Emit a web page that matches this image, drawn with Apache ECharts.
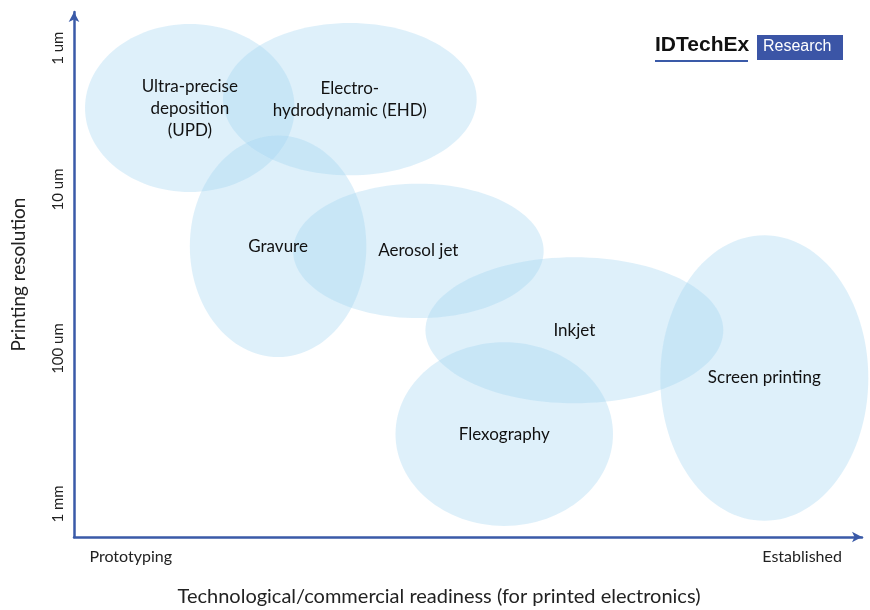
<!DOCTYPE html>
<html>
<head>
<meta charset="utf-8">
<script src="https://cdn.jsdelivr.net/npm/echarts@6/dist/echarts.min.js"></script>
<style>
  html, body { margin: 0; padding: 0; background: #fff; }
  #chart { width: 870px; height: 610px; }
</style>
</head>
<body>
<div id="chart"></div>
<script>
// technologies: readiness (x, 0-100), resolution position (y, 0-100), spread in x and y
var names = [
  'Ultra-precise\ndeposition\n(UPD)',
  'Electro-\nhydrodynamic (EHD)',
  'Gravure',
  'Aerosol jet',
  'Inkjet',
  'Flexography',
  'Screen printing'
];
var centerX = [14.7, 35.0, 25.9, 43.7, 63.5, 54.6, 87.6];
var centerY = [81.7, 83.4, 55.4, 54.5, 39.4, 19.6, 30.3];
var spreadX = [13.3, 16.1, 11.2, 15.9, 18.9, 13.8, 13.2];
var spreadY = [16.0, 14.5, 21.1, 12.8, 13.9, 17.5, 27.2];

var yTickPos = [6.3, 35.9, 66.2, 93.1];
var yTickLabels = ['1 mm', '100 um', '10 um', '1 um'];
var xTickPos = [7.2, 92.4];
var xTickLabels = ['Prototyping', 'Established'];

var axisColor = '#3a5aa8';
var font = 'Lato, "Open Sans", sans-serif';

var chart = echarts.init(document.getElementById('chart'));

var data = names.map(function (n, i) {
  return { name: n, value: [centerX[i], centerY[i], spreadX[i], spreadY[i]] };
});

function renderBlob(params, api) {
  var c = api.coord([api.value(0), api.value(1)]);
  var s = api.size([api.value(2), api.value(3)]);
  return {
    type: 'group',
    children: [
      {
        type: 'ellipse',
        shape: { cx: c[0], cy: c[1], rx: s[0], ry: s[1] },
        style: { fill: 'rgba(160,212,240,0.35)' },
        z2: 0
      },
      {
        type: 'text',
        x: c[0],
        y: c[1],
        z2: 100,
        style: {
          text: names[params.dataIndex],
          align: 'center',
          verticalAlign: 'middle',
          fontSize: 17,
          lineHeight: 22,
          fontFamily: font,
          fill: '#111'
        }
      }
    ]
  };
}

chart.setOption({
  animation: false,
  grid: { left: 74, right: 8, top: 12, bottom: 73, containLabel: false, outerBoundsMode: 'none' },
  xAxis: {
    type: 'value',
    min: 0,
    max: 100,
    name: 'Technological/commercial readiness (for printed electronics)',
    nameLocation: 'middle',
    nameGap: 50,
    nameTextStyle: { fontSize: 20, fontFamily: font, color: '#222', padding: [0, 58, 0, 0] },
    axisLine: { lineStyle: { color: axisColor, width: 2.5 }, symbol: ['none', 'arrow'], symbolSize: [8, 10] },
    axisTick: { show: false },
    splitLine: { show: false },
    axisLabel: {
      customValues: xTickPos,
      margin: 12,
      fontSize: 16,
      fontFamily: font,
      color: '#222',
      formatter: function (v) {
        var i = xTickPos.indexOf(v);
        return i >= 0 ? xTickLabels[i] : '';
      }
    }
  },
  yAxis: {
    type: 'value',
    min: 0,
    max: 100,
    name: 'Printing resolution',
    nameLocation: 'middle',
    nameGap: 46,
    nameRotate: 90,
    nameTextStyle: { fontSize: 19, fontFamily: font, color: '#222' },
    axisLine: { show: true, lineStyle: { color: axisColor, width: 2.5 }, symbol: ['none', 'arrow'], symbolSize: [8, 10] },
    axisTick: { show: false },
    splitLine: { show: false },
    axisLabel: {
      customValues: yTickPos,
      rotate: 90,
      margin: 8,
      fontSize: 15,
      fontFamily: font,
      color: '#222',
      formatter: function (v) {
        var i = yTickPos.indexOf(v);
        return i >= 0 ? yTickLabels[i] : '';
      }
    }
  },
  graphic: [
    {
      type: 'text',
      left: 655,
      top: 35,
      style: { text: 'IDTechEx', fontSize: 21, fontWeight: 'bold', fontFamily: '"Liberation Sans", Arial, sans-serif', fill: '#111' }
    },
    {
      type: 'rect',
      shape: { x: 655, y: 60, width: 93, height: 2 },
      style: { fill: axisColor }
    },
    {
      type: 'rect',
      shape: { x: 757, y: 35, width: 86, height: 25 },
      style: { fill: '#3b55a6' }
    },
    {
      type: 'text',
      left: 763,
      top: 39,
      style: { text: 'Research', fontSize: 16, fontFamily: '"Liberation Sans", Arial, sans-serif', fill: '#fff' }
    }
  ],
  series: [
    {
      type: 'custom',
      renderItem: renderBlob,
      encode: { x: 0, y: 1 },
      clip: false,
      data: data
    }
  ]
});
</script>
</body>
</html>
